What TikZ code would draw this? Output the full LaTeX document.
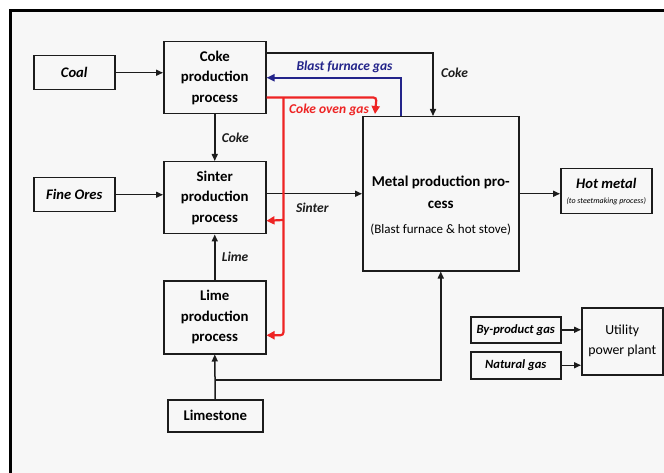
\documentclass[tikz,border=0pt]{standalone}
\usepackage{fontspec}
\setmainfont{Carlito}
\usepackage{tikz}
\usepackage{xcolor}
\usetikzlibrary{
  positioning, arrows.meta, calc,
}
\definecolor{cPanel}    {HTML}{F7F7F7}
\definecolor{cInk}      {HTML}{1C1C1C}
\definecolor{cBlastGas} {HTML}{23248A}
\definecolor{cOvenGas}  {HTML}{EE2424}

\tikzset{
  procBox/.style={draw=cInk, line width=1.5pt, anchor=north west, align=center,
    inner sep=0pt, font=\bfseries\fontsize{14.8}{20.5}\selectfont},
  feedBox/.style={procBox, font=\bfseries\itshape\fontsize{14.6}{16}\selectfont},
  gasBox/.style={procBox, font=\bfseries\itshape\fontsize{12.6}{14}\selectfont},
  flowArrow/.style={draw=cInk, line width=1.5pt, -{Triangle[length=7pt,width=6pt]}},
  flowLbl/.style={font=\bfseries\itshape\fontsize{13.5}{16}\selectfont, text=cInk},
  blastGas/.style={draw=cBlastGas, line width=2pt, -{Triangle[length=8pt,width=7pt]}},
  ovenGas/.style={draw=cOvenGas, line width=2.2pt, rounded corners=3pt},
}

\begin{document}
\begin{tikzpicture}[x=1pt, y=-1pt]
  \useasboundingbox (0,0) rectangle (664,473);
  \fill[cPanel] (10,11) rectangle (664,473);
  \draw[line width=3pt, black] (10,473) -- (10,11) -- (664,11);

  % process boxes
  \node[procBox, minimum width=102, minimum height=72] (coke) at (163,41) {Coke\\production\\process};
  \node[procBox, minimum width=102, minimum height=72] (sinter) at (163,161) {Sinter\\production\\process};
  \node[procBox, minimum width=102, minimum height=73] (lime) at (163,280) {Lime\\production\\process};
  \node[procBox, minimum width=95, minimum height=32] (limestone) at (167,399) {Limestone};
  \node[procBox, minimum width=156, minimum height=154, font=\bfseries\fontsize{15}{22}\selectfont] (metal) at (362,116)
    {\rule{0pt}{34pt}Metal production pro-\\cess\\[3pt]{\mdseries\fontsize{13}{15}\selectfont (Blast furnace \& hot stove)}};
  \node[procBox, minimum width=81, minimum height=67, font=\mdseries\fontsize{13.8}{20}\selectfont] (utility) at (581,307) {Utility\\power plant};

  % feed boxes
  \node[feedBox, minimum width=81, minimum height=34] (coal) at (33,55) {Coal};
  \node[feedBox, minimum width=81, minimum height=34] (ores) at (33,177) {Fine Ores};
  \node[feedBox, minimum width=91, minimum height=45] (hotmetal) at (560,168)
    {Hot metal\\[-1pt]{\mdseries\fontsize{8}{9}\selectfont (to steetmaking process)}};
  \node[gasBox, minimum width=90, minimum height=26] (byprod) at (470,316) {By-product gas};
  \node[gasBox, minimum width=90, minimum height=27] (natgas) at (470,351) {Natural gas};

  % material flows
  \draw[flowArrow] (coal.east) -- (coal.east -| coke.west);
  \draw[flowArrow] (ores.east) -- (ores.east -| sinter.west);
  \draw[flowArrow] (coke.south) -- (sinter.north) node[midway, right=3pt, flowLbl] {Coke};
  \draw[flowArrow] (lime.north) -- (sinter.south) node[midway, right=3pt, flowLbl] {Lime};
  \draw[flowArrow] (limestone.north) -- (lime.south);
  \coordinate (limeTee) at ($(limestone.north)+(0,-19)$);
  \draw[flowArrow] (limeTee) -| (metal.south);
  \draw[flowArrow] (sinter.east |- metal.west) -- (metal.west)
    node[pos=0.48, below=5pt, flowLbl] {Sinter};
  \draw[flowArrow] ($(coke.north east)+(0,12)$) -| ($(metal.north west)+(71,0)$)
    node[pos=0.66, right=4pt, flowLbl] {Coke};
  \draw[flowArrow] (metal.east) -- (metal.east -| hotmetal.west);
  \draw[flowArrow] (byprod.east) -- (byprod.east -| utility.west);
  \draw[flowArrow] (natgas.east) -- (natgas.east -| utility.west);

  % gas flows
  \draw[blastGas] ($(metal.north west)+(39,0)$) |- (coke.east)
    node[pos=0.71, above=1pt, flowLbl, text=cBlastGas] {Blast furnace gas};
  \coordinate (ovenTap) at ($(coke.south east)+(17,-17)$);
  \draw[ovenGas, -{Triangle[length=8pt,width=8pt]}] ($(coke.south east)+(0,-17)$) -- ($(coke.south east)+(110,-17)$)
    -- ($(metal.north west)+(13,-2)$);
  \draw[ovenGas, -{Triangle[length=8pt,width=8pt]}] (ovenTap) |- ($(lime.east)+(0,18)$);
  \draw[ovenGas, -{Triangle[length=8pt,width=8pt]}] (ovenTap |- 0,220) -- ($(sinter.east)+(0,23)$);
  \node[flowLbl, text=cOvenGas] (ovenLbl) at (329,110) {Coke oven gas};
\end{tikzpicture}
\end{document}
